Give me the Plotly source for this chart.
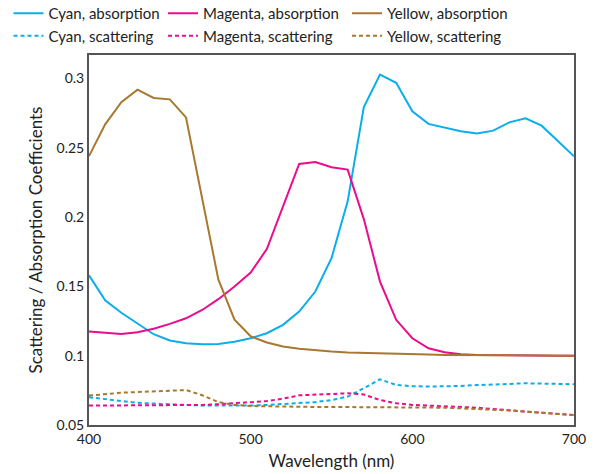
import plotly.graph_objects as go

wavelength = [400, 410, 420, 430, 440, 450, 460, 470, 480, 490, 500, 510, 520, 530, 540, 550,
              560, 570, 580, 590, 600, 610, 620, 630, 640, 650, 660, 670, 680, 690, 700]

cyan_abs = [0.158, 0.140, 0.131, 0.123, 0.1155, 0.111, 0.109, 0.1083, 0.1085, 0.110, 0.1126,
            0.1162, 0.1223, 0.1319, 0.1463, 0.1704, 0.2114, 0.2795, 0.3029, 0.2969, 0.2764,
            0.2673, 0.2644, 0.262, 0.2603, 0.2624, 0.2684, 0.2713, 0.266, 0.2547, 0.2439]
magenta_abs = [0.1174, 0.1165, 0.1157, 0.117, 0.1195, 0.123, 0.127, 0.133, 0.1408, 0.150, 0.160,
               0.177, 0.2079, 0.2384, 0.2398, 0.236, 0.2343, 0.1986, 0.1535, 0.1259, 0.1126,
               0.1054, 0.1025, 0.101, 0.1005, 0.1003, 0.1002, 0.1001, 0.1, 0.1, 0.1]
yellow_abs = [0.244, 0.267, 0.283, 0.292, 0.286, 0.285, 0.272, 0.2135, 0.155, 0.126, 0.114,
              0.1095, 0.1066, 0.105, 0.1038, 0.103, 0.1024, 0.102, 0.1015, 0.1012, 0.101,
              0.1008, 0.1006, 0.1005, 0.1004, 0.1003, 0.1002, 0.1001, 0.1, 0.1, 0.1]

cyan_scat = [0.070, 0.0685, 0.067, 0.066, 0.0655, 0.0648, 0.0645, 0.0641, 0.064, 0.064, 0.064,
             0.0645, 0.0652, 0.0657, 0.0665, 0.068, 0.0705, 0.0765, 0.083, 0.0789, 0.078,
             0.0777, 0.0778, 0.0782, 0.0788, 0.0794, 0.0798, 0.0801, 0.0799, 0.0796, 0.0794]
magenta_scat = [0.064, 0.064, 0.064, 0.064, 0.064, 0.064, 0.064, 0.0645, 0.065, 0.066, 0.0665,
                0.0673, 0.069, 0.0714, 0.072, 0.0724, 0.0729, 0.072, 0.068, 0.0657, 0.0645,
                0.064, 0.0636, 0.0632, 0.0625, 0.0615, 0.0605, 0.0596, 0.0588, 0.058, 0.0572]
yellow_scat = [0.0712, 0.0723, 0.0733, 0.0738, 0.0743, 0.0748, 0.0752, 0.0715, 0.0665, 0.0645, 0.0637,
               0.0635, 0.0632, 0.0631, 0.063, 0.063, 0.063, 0.063, 0.063, 0.063, 0.063,
               0.0628, 0.0625, 0.062, 0.0615, 0.0612, 0.0605, 0.0596, 0.0588, 0.058, 0.0572]

x_ticks = [400, 500, 600, 700]
y_ticks = [0.05, 0.1, 0.15, 0.2, 0.25, 0.3]
y_tick_labels = ["0.05", "0.1", "0.15", "0.2", "0.25", "0.3"]

CYAN = "#0AAEEA"
MAGENTA = "#EC0B8C"
YELLOW = "#A8782F"
FONT = "Lato"

# plot area in pixels (for legend placement only)
L, R, T, B = 89, 34, 55, 49
PW, PH = 608 - L - R, 474 - T - B

fig = go.Figure()
series = [
    ("Cyan, absorption", cyan_abs, CYAN, "solid", "legend"),
    ("Cyan, scattering", cyan_scat, CYAN, "4px,3px", "legend"),
    ("Magenta, absorption", magenta_abs, MAGENTA, "solid", "legend2"),
    ("Magenta, scattering", magenta_scat, MAGENTA, "4px,3px", "legend2"),
    ("Yellow, absorption", yellow_abs, YELLOW, "solid", "legend3"),
    ("Yellow, scattering", yellow_scat, YELLOW, "4px,3px", "legend3"),
]
for name, vals, col, dash, lg in series:
    fig.add_trace(go.Scatter(x=wavelength, y=vals, mode="lines", name=name,
                             line=dict(color=col, width=2, dash=dash), legend=lg))

leg_common = dict(orientation="v", yanchor="top", xanchor="left", y=1 + (T + 3) / PH,
                  bgcolor="rgba(0,0,0,0)", font=dict(family=FONT, size=15, color="#222"),
                  tracegroupgap=0, itemwidth=30)

fig.update_layout(
    width=608, height=474,
    margin=dict(l=L, r=R, t=T, b=B, autoexpand=False),
    paper_bgcolor="white", plot_bgcolor="white",
    font=dict(family=FONT, color="#222"),
    legend=dict(leg_common, x=(8.5 - L) / PW),
    legend2=dict(leg_common, x=(163 - L) / PW),
    legend3=dict(leg_common, x=(347 - L) / PW),
    xaxis=dict(range=[400, 700], tickvals=x_ticks, showgrid=False, zeroline=False,
               showline=True, mirror=True, linecolor="#555", linewidth=2, ticks="",
               tickfont=dict(family=FONT, size=14, color="#222"),
               title=dict(text="Wavelength (nm)", font=dict(family=FONT, size=17, color="#222"), standoff=9)),
    yaxis=dict(range=[0.05, 0.317], tickvals=y_ticks, ticktext=y_tick_labels, showgrid=False,
               zeroline=False, showline=True, mirror=True, linecolor="#555", linewidth=2, ticks="",
               tickfont=dict(family=FONT, size=14, color="#222"),
               title=dict(text="Scattering / Absorption Coefficients", font=dict(family=FONT, size=17, color="#222"), standoff=10)),
)

fig.write_html("out.html", config={"displayModeBar": False},
               post_script="document.body.style.margin='0px';")
